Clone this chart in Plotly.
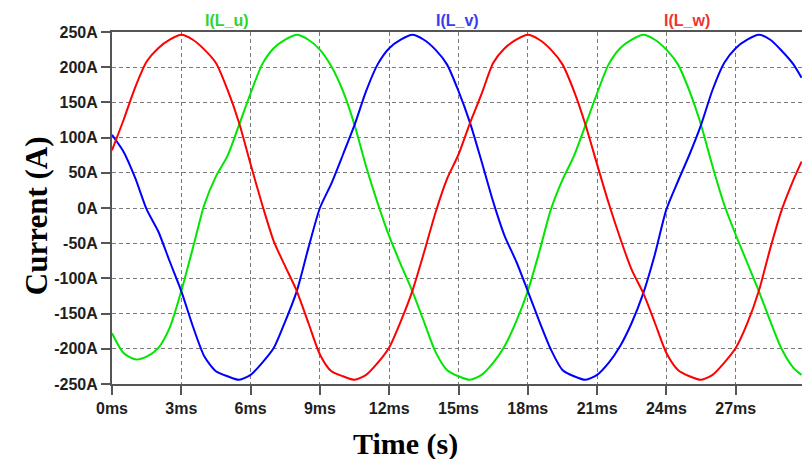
import plotly.graph_objects as go

# ---- data ----
time_ms = [0, 0.5, 1, 1.5, 2, 2.5, 3, 3.5, 4, 4.5,
           5, 5.5, 6, 6.5, 7, 7.5, 8, 8.5, 9, 9.5,
           10, 10.5, 11, 11.5, 12, 12.5, 13, 13.5, 14, 14.5,
           15, 15.5, 16, 16.5, 17, 17.5, 18, 18.5, 19, 19.5,
           20, 20.5, 21, 21.5, 22, 22.5, 23, 23.5, 24, 24.5,
           25, 25.5, 26, 26.5, 27, 27.5, 28, 28.5, 29, 29.5, 29.85]

i_u = [-178, -206, -215, -211, -199, -170, -118, -57, 5, 45,
       74, 118, 163, 204, 227, 239, 246, 239, 225, 201,
       166, 118, 59, 7, -40, -80, -118, -161, -204, -230,
       -239, -244, -237, -220, -196, -161, -118, -62, -2, 40,
       74, 118, 163, 204, 227, 239, 246, 239, 225, 204,
       166, 118, 59, 5, -38, -78, -118, -161, -201, -227, -237]

i_v = [104, 80, 43, -2, -33, -76, -118, -168, -211, -232,
       -239, -244, -237, -220, -199, -161, -118, -57, 0, 35,
       76, 118, 166, 204, 227, 239, 246, 239, 225, 204,
       166, 121, 66, 9, -40, -76, -118, -161, -201, -230,
       -239, -244, -237, -220, -196, -163, -121, -66, -2, 38,
       76, 118, 168, 206, 227, 239, 246, 239, 223, 204, 185]

i_w = [82, 125, 171, 208, 227, 239, 246, 239, 225, 206,
       168, 121, 62, 5, -47, -83, -118, -163, -208, -232,
       -239, -244, -237, -220, -198, -161, -118, -64, -7, 41,
       76, 121, 162, 206, 227, 239, 246, 239, 225, 204,
       166, 118, 62, 7, -43, -88, -121, -163, -206, -230,
       -239, -244, -237, -220, -199, -164, -118, -57, -2, 40, 66]

series_names = ["I(L_u)", "I(L_v)", "I(L_w)"]
series_colors = ["#00e600", "#0000ff", "#ff0000"]
label_colors = ["#2fd42f", "#3b3bf0", "#f03333"]

x_tick_vals = [0, 3, 6, 9, 12, 15, 18, 21, 24, 27]
x_tick_text = ["0ms", "3ms", "6ms", "9ms", "12ms", "15ms", "18ms", "21ms", "24ms", "27ms"]
y_tick_vals = [250, 200, 150, 100, 50, 0, -50, -100, -150, -200, -250]
y_tick_text = ["250A", "200A", "150A", "100A", "50A", "0A", "-50A", "-100A", "-150A", "-200A", "-250A"]

fig = go.Figure()
for name, ys, col in zip(series_names, [i_u, i_v, i_w], series_colors):
    fig.add_trace(go.Scatter(x=time_ms, y=ys, mode="lines", name=name,
                             line=dict(color=col, width=2, shape="spline", smoothing=0.7)))

tick_font = dict(family="Liberation Sans, Arial, sans-serif", size=16, color="#1e1e1e", weight="bold")
axis_col = "#555555"
grid_col = "#7a7a7a"

fig.update_layout(
    width=802, height=459,
    margin=dict(l=112, r=0, t=32, b=75),
    paper_bgcolor="white", plot_bgcolor="white",
    showlegend=False,
    xaxis=dict(range=[0, 29.87], tickvals=x_tick_vals, ticktext=x_tick_text,
               showgrid=True, gridcolor=grid_col, griddash="4px,3px", gridwidth=1.2,
               showline=True, linecolor=axis_col, linewidth=2, mirror=True,
               ticks="outside", ticklen=9, tickwidth=2, tickcolor=axis_col,
               tickfont=tick_font, zeroline=False),
    yaxis=dict(range=[-250, 250], tickvals=y_tick_vals, ticktext=y_tick_text,
               showgrid=True, gridcolor=grid_col, griddash="4px,3px", gridwidth=1.2,
               showline=True, linecolor=axis_col, linewidth=2,
               ticks="outside", ticklen=9, tickwidth=2, tickcolor=axis_col,
               tickfont=tick_font, zeroline=False),
)

for i, (name, col) in enumerate(zip(series_names, label_colors)):
    fig.add_annotation(text=name, xref="paper", yref="paper", x=[1/6, 0.5, 5/6][i], y=1,
                       xanchor="center", yanchor="bottom", yshift=1, showarrow=False,
                       font=dict(family="Liberation Sans, Arial, sans-serif", size=16,
                                 color=col, weight="bold"))

fig.add_annotation(text="Time (s)", xref="paper", yref="paper", x=0.426, y=0,
                   xanchor="center", yanchor="top", yshift=-42, showarrow=False,
                   borderpad=0,
                   font=dict(family="Liberation Serif, Times New Roman, serif", size=30,
                             color="black", weight="bold"))
fig.add_annotation(text="Current (A)", xref="paper", yref="paper", x=-0.110, y=0.477,
                   xanchor="center", yanchor="middle", textangle=-90, showarrow=False,
                   font=dict(family="Liberation Serif, Times New Roman, serif", size=31,
                             color="black", weight="bold"))

fig.write_html("out.html", config={"displayModeBar": False},
               post_script="document.body.style.margin='0';document.body.style.overflow='hidden';")
